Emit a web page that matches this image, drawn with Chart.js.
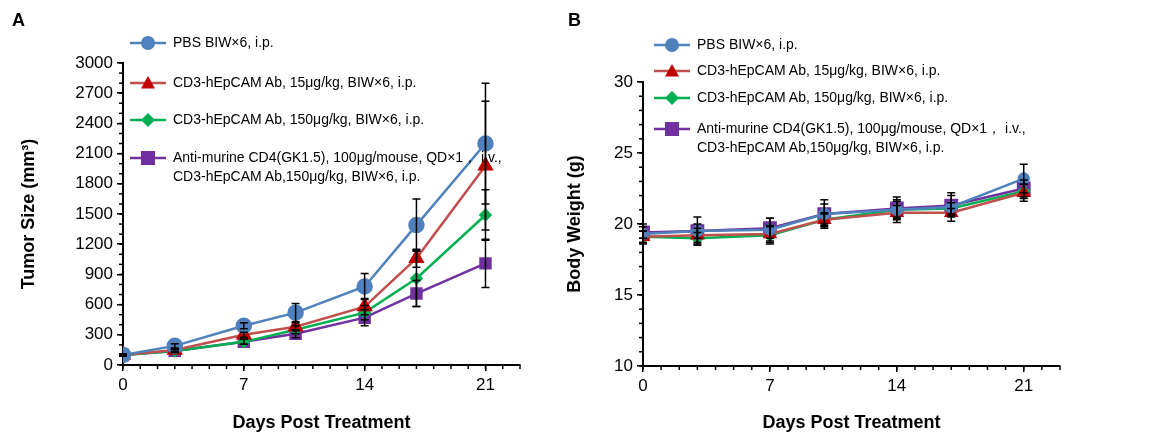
<!DOCTYPE html>
<html><head><meta charset="utf-8">
<script src="https://cdn.jsdelivr.net/npm/chart.js@4"></script>
<style>
body{margin:0;width:1176px;height:448px;background:#fff;font-family:"Liberation Sans",Arial,sans-serif;position:relative;overflow:hidden}
.wrap{position:absolute;top:0;height:448px}
.lbl{position:absolute;font-weight:bold;font-size:18px}
.leg{position:absolute;font-size:14px;color:#000;line-height:19px}
.leg div{position:absolute;white-space:nowrap}
.leg svg{position:absolute}
</style></head><body>
<div class="wrap" style="left:0;width:560px"><canvas id="tumor"></canvas></div>
<div class="wrap" style="left:560px;width:616px"><canvas id="weight"></canvas></div>
<div class="lbl" style="left:12px;top:10px">A</div>
<div class="lbl" style="left:568px;top:10px">B</div>
<div class="leg" id="legA" style="left:0;top:0"></div>
<div class="leg" id="legB" style="left:0;top:0"></div>
<script>
const days = [0, 3, 7, 10, 14, 17, 21];
const groups = ['PBS BIW×6, i.p.', 'CD3-hEpCAM Ab, 15μg/kg, BIW×6, i.p.', 'CD3-hEpCAM Ab, 150μg/kg, BIW×6, i.p.',
  ['Anti-murine CD4(GK1.5), 100μg/mouse, QD×1， i.v.,', 'CD3-hEpCAM Ab,150μg/kg, BIW×6, i.p.']];
const lineColors = ['#4F81BD', '#C0504D', '#00B050', '#7030A0'];
const markColors = ['#4F81BD', '#C00000', '#00B050', '#7030A0'];
const shapes = ['circle', 'triangle', 'rectRot', 'rect'];

// tumor volume (mm3) mean and SEM
const tumorPBS  = [100, 190, 390, 520, 780, 1390, 2200];
const tumor15   = [100, 150, 300, 380, 580, 1060, 1980];
const tumor150  = [100, 140, 230, 350, 520, 860, 1490];
const tumorCD4  = [100, 140, 230, 310, 470, 710, 1010];
const tumorErrPBS = [10, 20, 30, 90, 130, 260, 600];
const tumorErr15  = [10, 15, 25, 40, 80, 90, 640];
const tumorErr150 = [10, 15, 25, 40, 70, 280, 250];
const tumorErrCD4 = [10, 15, 25, 40, 80, 130, 240];

// body weight (g)
const bwPBS = [19.3, 19.5, 19.6, 20.7, 21.0, 21.2, 23.2];
const bw15  = [19.1, 19.2, 19.3, 20.3, 20.8, 20.8, 22.2];
const bw150 = [19.1, 19.0, 19.2, 20.3, 21.0, 21.1, 22.3];
const bwCD4 = [19.4, 19.5, 19.7, 20.7, 21.1, 21.3, 22.5];
const bwErrPBS = [0.7, 1.0, 0.8, 1.0, 0.9, 1.0, 1.0];
const bwErr15  = [0.4, 0.5, 0.6, 0.4, 0.5, 0.3, 0.6];
const bwErr150 = [0.4, 0.4, 0.6, 0.5, 0.6, 0.4, 0.5];
const bwErrCD4 = [0.4, 0.5, 0.7, 0.7, 0.6, 0.7, 0.6];

const xTicks = [0, 7, 14, 21];
const tumorTicks = [0, 300, 600, 900, 1200, 1500, 1800, 2100, 2400, 2700, 3000];
const weightTicks = [10, 15, 20, 25, 30];

const font = { family: '"Liberation Sans", Arial, sans-serif', size: 17 };

// error bars + minor tick marks
const errorBars = {
  id: 'errorBars',
  afterDatasetsDraw(chart, args, opts) {
    const { ctx, scales: { x, y } } = chart;
    ctx.save(); ctx.strokeStyle = '#000'; ctx.lineWidth = 1.5;
    chart.data.datasets.forEach(ds => {
      ds.err.forEach((e, i) => {
        const p = ds.data[i];
        const px = x.getPixelForValue(p.x);
        const top = y.getPixelForValue(p.y + e), bot = y.getPixelForValue(p.y - e);
        ctx.beginPath();
        ctx.moveTo(px, top); ctx.lineTo(px, bot);
        ctx.moveTo(px - 4, top); ctx.lineTo(px + 4, top);
        ctx.moveTo(px - 4, bot); ctx.lineTo(px + 4, bot);
        ctx.stroke();
      });
    });
    const ca = chart.chartArea;
    for (let d = 0; d <= x.max; d++) {
      const px = x.getPixelForValue(d);
      ctx.beginPath(); ctx.moveTo(px, ca.bottom); ctx.lineTo(px, ca.bottom + 4); ctx.stroke();
    }
    for (let v = y.min; v <= y.max + 1e-9; v += opts.yMinor) {
      const py = y.getPixelForValue(v);
      ctx.beginPath(); ctx.moveTo(ca.left - 4, py); ctx.lineTo(ca.left, py); ctx.stroke();
    }
    ctx.restore();
  }
};

const pts = arr => arr.map((v, i) => ({ x: days[i], y: v }));

function makeChart(id, w, series, errs, yOpts, pad, sizes, radii) {
  const c = document.getElementById(id); c.width = w; c.height = 448;
  const datasets = series.map((s, k) => ({
    data: pts(s), err: errs[k],
    borderColor: lineColors[k], borderWidth: 2.5,
    pointStyle: shapes[k], pointRadius: radii[k],
    pointBackgroundColor: markColors[k], pointBorderColor: markColors[k]
  }));
  return new Chart(c, {
    type: 'line',
    data: { datasets },
    options: {
      responsive: false, animation: false,
      layout: { padding: pad },
      plugins: { legend: { display: false }, tooltip: { enabled: false }, errorBars: { yMinor: yOpts.minor } },
      scales: {
        x: {
          type: 'linear', min: 0, max: 23,
          afterBuildTicks: s => { s.ticks = xTicks.map(v => ({ value: v })); },
          afterFit: s => { s.height = sizes.xh; },
          grid: { drawOnChartArea: false, color: '#000', tickLength: 6, lineWidth: 1.5 },
          border: { color: '#000', width: 2 },
          ticks: { color: '#000', font, padding: 4, callback: v => String(v) },
          title: { display: true, text: 'Days Post Treatment', color: '#000', padding: { top: 0, bottom: 14 },
                   font: { ...font, size: 18, weight: 'bold' } }
        },
        y: {
          min: yOpts.min, max: yOpts.max,
          afterBuildTicks: s => { s.ticks = yOpts.ticks.map(v => ({ value: v })); },
          afterFit: s => { s.width = sizes.yw; },
          grid: { drawOnChartArea: false, color: '#000', tickLength: 6, lineWidth: 1.5 },
          border: { color: '#000', width: 2 },
          ticks: { color: '#000', font, padding: 4, callback: v => String(v) },
          title: { display: true, text: yOpts.title, color: '#000', font: { ...font, size: 18, weight: 'bold' } }
        }
      }
    },
    plugins: [errorBars]
  });
}

makeChart('tumor', 560,
  [tumorPBS, tumor15, tumor150, tumorCD4],
  [tumorErrPBS, tumorErr15, tumorErr150, tumorErrCD4],
  { min: 0, max: 3000, ticks: tumorTicks, minor: 100, title: 'Tumor Size (mm³)' },
  { top: 63, right: 40, left: 14, bottom: 0 }, { xh: 83, yw: 109 }, [7, 7, 5, 7]);
makeChart('weight', 616,
  [bwPBS, bw15, bw150, bwCD4],
  [bwErrPBS, bwErr15, bwErrCD4.map(() => 0).map((_, i) => bwErr150[i]), bwErrCD4],
  { min: 10, max: 30, ticks: weightTicks, minor: 1, title: 'Body Weight (g)' },
  { top: 82, right: 116, left: 0, bottom: 0 }, { xh: 82, yw: 83 }, [5, 6, 5, 8]);

function marker(k, r) {
  const c = markColors[k];
  if (k === 0) return `<circle cx="20" cy="10" r="${r}" fill="${c}"/>`;
  if (k === 1) return `<polygon points="20,${10 - r} ${20 + r},${10 + r * 0.8} ${20 - r},${10 + r * 0.8}" fill="${c}"/>`;
  if (k === 2) return `<polygon points="20,${10 - r} ${20 + r},10 20,${10 + r} ${20 - r},10" fill="${c}"/>`;
  return `<rect x="${20 - r}" y="${10 - r}" width="${2 * r}" height="${2 * r}" fill="${c}"/>`;
}
function legend(id, x0, ys) {
  let h = '';
  groups.forEach((g, k) => {
    h += `<svg style="left:${x0}px;top:${ys[k] - 10}px" width="40" height="20">` +
         `<line x1="2" y1="10" x2="38" y2="10" stroke="${lineColors[k]}" stroke-width="2.5"/>${marker(k, 7)}</svg>`;
    const txt = Array.isArray(g) ? g.join('<br>') : g;
    h += `<div style="left:${x0 + 45}px;top:${ys[k] - 10}px">${txt}</div>`;
  });
  document.getElementById(id).innerHTML = h;
}
legend('legA', 128, [43, 83, 120, 158]);
legend('legB', 652, [45, 71, 98, 129]);
</script>
</body></html>
